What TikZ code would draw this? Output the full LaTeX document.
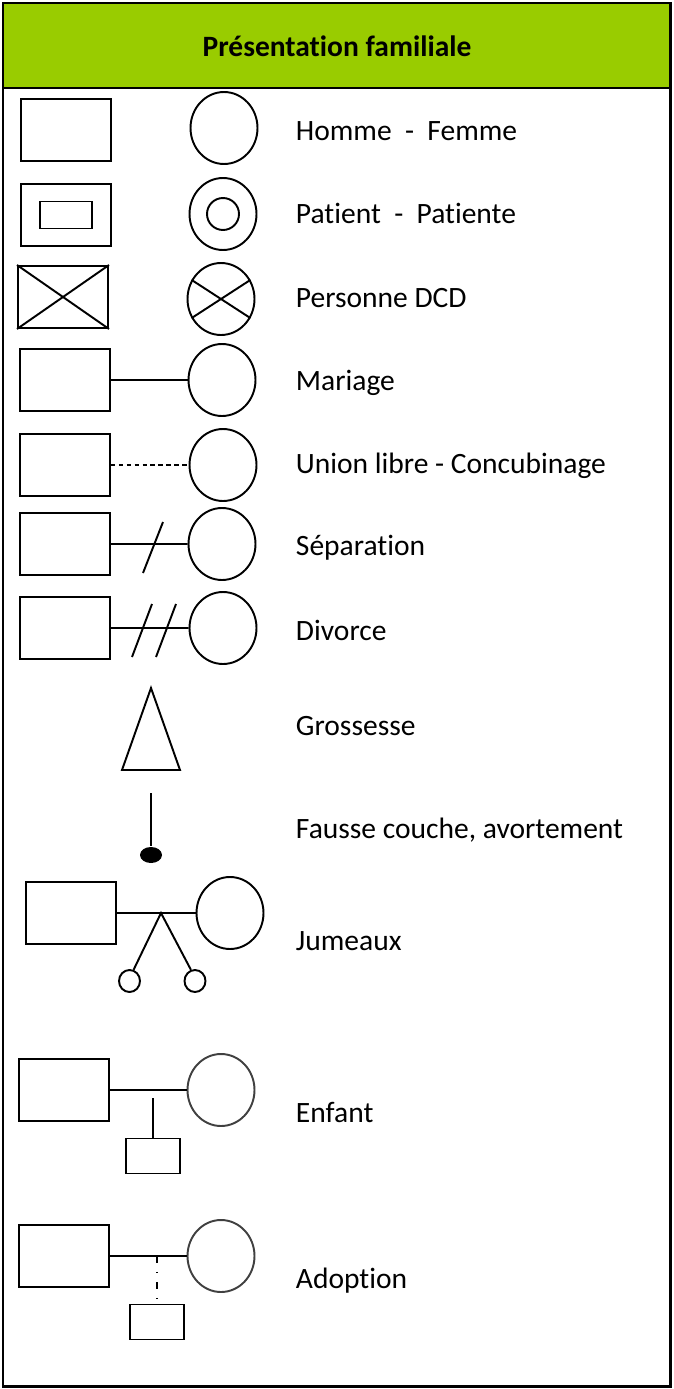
\documentclass[tikz,border=0pt]{standalone}
\usepackage{fontspec}
\setmainfont{Carlito}[Ligatures=NoCommon]
\usetikzlibrary{shapes.geometric}
\definecolor{vertclair}{HTML}{99CC00}
\tikzset{
  homme/.style={draw,rectangle,inner sep=0,minimum width=1.8cm,minimum height=1.24cm},
  femme/.style={draw,ellipse,inner sep=0,minimum width=1.34cm,minimum height=1.44cm},
  enfant/.style={draw,rectangle,inner sep=0,minimum width=1.08cm,minimum height=0.7cm},
  legende/.style={anchor=west,inner sep=0,text height=10.8pt,text depth=0pt,font=\fontsize{16.8}{20}\selectfont},
}
\begin{document}
\begin{tikzpicture}[x=0.02cm,y=-0.02cm,line width=1.1pt]
\useasboundingbox (0,0) rectangle (673,1389);
% cadre
\fill[vertclair] (3,3) rectangle (670,88);
\draw[line width=1.7pt] (3,3) rectangle (670,1386) (3,88)--(670,88);
\node[inner sep=0,font=\bfseries\fontsize{16.8}{20}\selectfont] (titre) at (337,46) {Présentation familiale};

\node[homme] (h1) at (66,130) {};
\node[femme] (f1) at (224,128) {};
\node[legende] (l1) at (295,131) {Homme\ \ -\ \ Femme};

\node[homme] (h2) at (66,215) {};
\node[draw,inner sep=0,minimum width=1.04cm,minimum height=0.54cm] (h2i) at (h2) {};
\node[femme] (f2) at (223,214) {};
\node[draw,circle,inner sep=0,minimum size=0.64cm] (f2i) at (f2) {};
\node[legende] (l2) at (295,214) {Patient\ \ -\ \ Patiente};

\node[homme] (h3) at (63,297) {};
\draw (h3.north west)--(h3.south east) (h3.south west)--(h3.north east);
\node[femme] (f3) at (221,299) {};
\draw (f3.147)--(f3.-33) (f3.213)--(f3.33);
\node[legende] (l3) at (295,298) {Personne DCD};

\node[homme] (h4) at (65,380) {};
\node[femme] (f4) at (222,380) {};
\draw (h4)--(f4);
\node[legende] (l4) at (295,381) {Mariage};

\node[homme] (h5) at (65,465) {};
\node[femme] (f5) at (223,465) {};
\draw[dash pattern=on 2.5pt off 2pt] (h5)--(f5);
\node[legende] (l5) at (295,464) {Union libre - Concubinage};

\node[homme] (h6) at (65,544) {};
\node[femme] (f6) at (222,544) {};
\draw (h6)--(f6) (143,573)--(163,522);
\node[legende] (l6) at (295,546) {Séparation};

\node[homme] (h7) at (65,628) {};
\node[femme] (f7) at (223,628) {};
\draw (h7)--(f7) (132,657)--(152,604) (156,657)--(176,604);
\node[legende] (l7) at (295,631) {Divorce};

% grossesse
\draw (151,688)--(180,770)--(122,770)--cycle;
\node[legende] (l8) at (295,726) {Grossesse};

\coordinate (fc) at (151,793);
\node[fill,ellipse,inner sep=0,minimum width=0.44cm,minimum height=0.32cm] (fcb) at (151,855) {};
\draw (fc)--(fcb);
\node[legende] (l9) at (295,829) {Fausse couche, avortement};

% jumeaux
\node[homme] (h10) at (71,913) {};
\node[femme] (f10) at (230,913) {};
\draw (h10)--(f10);
\coordinate (jx) at (161,913);
\node[draw,ellipse,inner sep=0,minimum width=0.42cm,minimum height=0.44cm] (j1) at (129.5,981) {};
\node[draw,ellipse,inner sep=0,minimum width=0.42cm,minimum height=0.44cm] (j2) at (195,981) {};
\draw (j1.70)--(jx)--(j2.110);
\node[legende] (l10) at (295,941) {Jumeaux};

\node[homme] (h11) at (64,1090) {};
\node[femme,draw=black!75] (f11) at (221,1090) {};
\draw (h11)--(f11);
\coordinate (e1) at (153,1098);
\node[enfant] (e) at (153,1156) {};
\draw (e1)--(e.north);
\node[legende] (l11) at (295,1113) {Enfant};

\node[homme] (h12) at (64,1256) {};
\node[femme,draw=black!75] (f12) at (221,1256) {};
\draw (h12)--(f12);
\coordinate (a1) at (157,1256);
\node[enfant] (a) at (157,1322) {};
\draw[dash pattern=on 4pt off 5pt on 0.8pt off 5pt] (a1)--(a.north);
\node[legende] (l12) at (295,1279) {Adoption};
\end{tikzpicture}
\end{document}
